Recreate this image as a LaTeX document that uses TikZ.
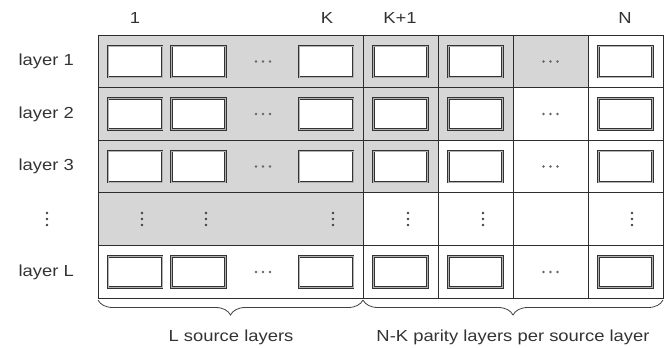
\documentclass[tikz,border=0pt]{standalone}
\usepackage{fontspec}
\setmainfont{Liberation Sans}[FakeStretch=1.15]
\usepackage{xcolor}
\definecolor{lygray}{RGB}{214,214,214}
\definecolor{lyline}{RGB}{45,45,45}
\usetikzlibrary{positioning,decorations.pathreplacing}

\begin{document}
\begin{tikzpicture}[x=1pt, y=-1pt,
  lbl/.style={font=\fontsize{16}{19}\selectfont, text=black!80},
  cellbox/.style={draw=black!80, double=black!30, double distance=0.8pt, line width=0.75pt,
    fill=white, minimum width=54pt, minimum height=31pt, inner sep=0pt},
  gridline/.style={draw=lyline, line width=1pt},
  hdotrow/.pic={\foreach \i in {-7,0,7} \fill[black!60] (\i,0) circle (1.3);},
  vdotrow/.pic={\foreach \i in {-6,0,6} \fill[black!75] (0,\i) circle (1.4);},
  bracel/.style={draw=black!75, line width=0.8pt, decorate,
    decoration={brace, mirror, amplitude=15pt}}]
\useasboundingbox (0,0) rectangle (667,348);

% Shaded (source) part
\fill[lygray] (98,35) rectangle (363,245.4);
\fill[lygray] (363,35) rectangle (588,87.6);
\fill[lygray] (363,87.6) rectangle (513,140.2);
\fill[lygray] (363,140.2) rectangle (438,192.8);

% Grid
\draw[gridline] (98,35) rectangle (663,298);
\foreach \y in {87.6,140.2,192.8,245.4}
  \draw[gridline] (98,\y) -- (663,\y);
\foreach \x in {363,438,513,588}
  \draw[gridline] (\x,35) -- (\x,298);

% Column headers
\node[lbl] (h1)  at (135,18) {1};
\node[lbl] (hK)  at (327,18) {K};
\node[lbl] (hK1) at (400,18) {K+1};
\node[lbl] (hN)  at (625,18) {N};

% Row labels
\node[lbl, anchor=west] (r1) at (15,61.5) {layer 1};
\node[lbl, anchor=west] (r2) at (15,114) {layer 2};
\node[lbl, anchor=west] (r3) at (15,166.5) {layer 3};
\pic at (47,219) {vdotrow};
\node[lbl, anchor=west] (r5) at (15,272) {layer L};

% Packet boxes
\foreach \r/\y in {1/61.5,2/114,3/166.5,5/272}{
  \foreach \c/\x in {1/135,2/198.5,K/326,K1/400.5,K2/475.5,N/625.5}
    \node[cellbox] (b-\r-\c) at (\x,\y) {};
  \pic at (263,\y) {hdotrow};
  \pic at (550.5,\y) {hdotrow};
}

% Vertical dots row
\foreach \x in {142,206,333,408,483,632}
  \pic at (\x,219) {vdotrow};

% Braces
\coordinate (srcA) at (98,300);
\coordinate (srcB) at (363,300);
\coordinate (parA) at (363,300);
\coordinate (parB) at (663,300);
\draw[bracel] (srcA) -- (srcB);
\draw[bracel] (parA) -- (parB);
\node[lbl] (srclbl) at (231,337) {L source layers};
\node[lbl] (parlbl) at (513,337) {N-K parity layers per source layer};

\end{tikzpicture}
\end{document}
